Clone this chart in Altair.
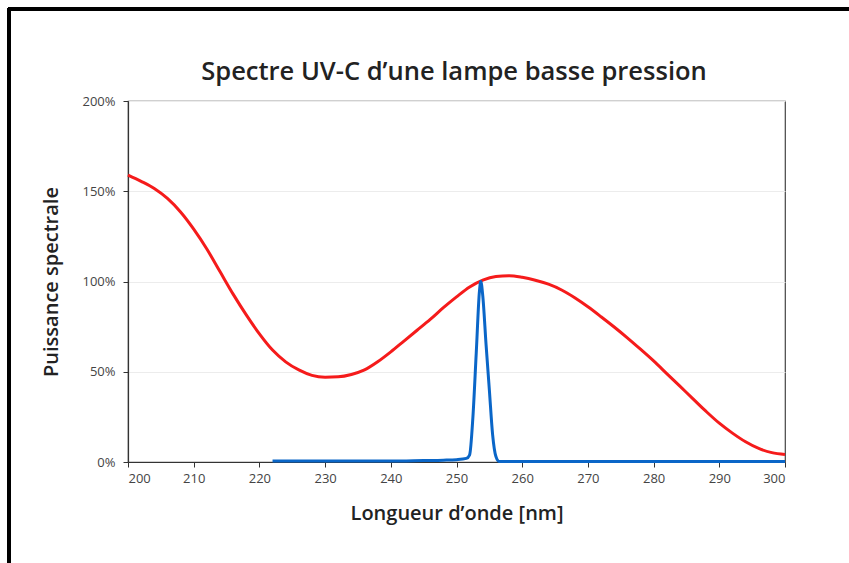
import altair as alt
import pandas as pd

# Mercury low-pressure lamp: UV-C emission line vs. germicidal reference curve
ref_nm = [200, 202, 204, 206, 208, 210, 212, 214, 216, 218, 220, 222, 224, 226,
          228, 230, 232, 234, 236, 238, 240, 242, 244, 246, 248, 250, 252, 254,
          256, 258, 260, 262, 264, 266, 268, 270, 272, 274, 276, 278, 280, 282,
          284, 286, 288, 290, 292, 294, 296, 298, 300]
ref_pct = [159, 155.5, 151.5, 146, 138.5, 129, 118, 105.5, 93, 81.5, 71, 62, 55.5, 51,
           48, 47, 47.2, 48.5, 51, 55.5, 61, 67, 73, 79, 85.5, 91.5, 97, 100.8,
           102.8, 103.2, 102.3, 100.7, 98.5, 95.3, 91, 86, 80.5, 74.8, 68.8, 62.5, 56, 49,
           42, 35, 28, 21.5, 16, 11.2, 7.5, 5.2, 4.2]

lamp_nm = [222, 230, 240, 245, 248, 250, 251.5, 252, 252.5, 253, 253.5, 253.7,
           254, 254.5, 255, 255.5, 256, 256.5, 260, 270, 280, 290, 300]
lamp_pct = [0.5, 0.5, 0.5, 0.8, 1.0, 1.3, 2, 4, 25, 60, 95, 100,
            92, 65, 40, 15, 3, 0.3, 0.3, 0.3, 0.3, 0.3, 0.3]

x_ticks = [200, 210, 220, 230, 240, 250, 260, 270, 280, 290, 300]
y_ticks = [0, 50, 100, 150, 200]
chart_title = ["Spectre UV-C d’une lampe basse pression"]

ref = pd.DataFrame({"nm": ref_nm, "pct": ref_pct})
lamp = pd.DataFrame({"nm": lamp_nm, "pct": lamp_pct})

FONT = "Open Sans"

x_enc = alt.X("nm:Q", scale=alt.Scale(domain=[200, 300], nice=False),
              axis=alt.Axis(values=x_ticks, title="Longueur d’onde [nm]",
                            grid=False, titlePadding=18, labelPadding=5))
y_enc = alt.Y("pct:Q", scale=alt.Scale(domain=[0, 200], nice=False),
              axis=alt.Axis(values=y_ticks, title="Puissance spectrale",
                            labelExpr="datum.value + '%'", titlePadding=20,
                            labelPadding=8, gridColor="#ececec"))

red = alt.Chart(ref).mark_line(color="#f51b1b", strokeWidth=3,
                               interpolate="monotone").encode(x=x_enc, y=y_enc)
blue = alt.Chart(lamp).mark_line(color="#0a66c8", strokeWidth=3,
                                 interpolate="monotone").encode(x="nm:Q", y="pct:Q")

# chart heading, centred over the plot area
heading = alt.Chart(pd.DataFrame({"t": chart_title})).mark_text(
    font=FONT, fontSize=25.5, fontWeight=600, color="#222",
    align="center", baseline="alphabetic", clip=False
).encode(text="t:N", x=alt.value(326), y=alt.value(-21))

# outer frame (top and left edges)
frame_top = alt.Chart(ref).mark_rule(color="#000", strokeWidth=3, clip=False).encode(
    x=alt.value(-120), x2=alt.value(760), y=alt.value(-92))
frame_left = alt.Chart(ref).mark_rule(color="#000", strokeWidth=3, clip=False).encode(
    x=alt.value(-119), y=alt.value(-93), y2=alt.value(470))

chart = alt.layer(red, blue, heading, frame_top, frame_left).properties(
    width=657, height=361,
    background="white",
    padding={"left": 128, "top": 101, "right": 64, "bottom": 101},
    autosize=alt.AutoSizeParams(type="none"),
).configure_view(
    stroke="#444", strokeWidth=1.2
).configure_axis(
    labelFont=FONT, labelFontSize=13, labelColor="#444",
    titleFont=FONT, titleFontSize=20, titleFontWeight=600, titleColor="#222",
    domainColor="#333", tickColor="#333", tickSize=5, domainWidth=1.2,
)

chart.save("out.html", embed_options={"renderer": "svg", "actions": False})
